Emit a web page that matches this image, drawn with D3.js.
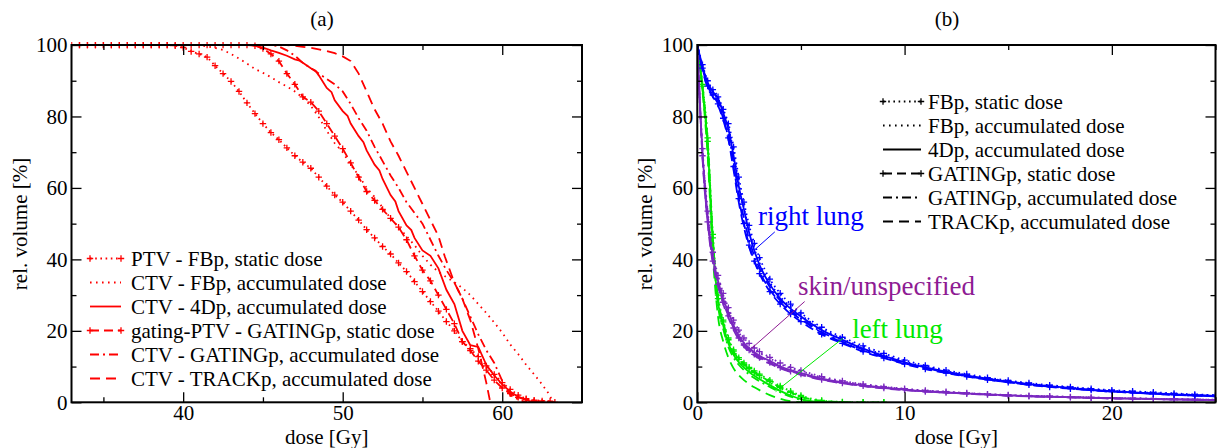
<!DOCTYPE html>
<html>
<head>
<meta charset="utf-8">
<script src="https://cdn.jsdelivr.net/npm/d3@7"></script>
<style>
  body { margin: 0; background: #fff; }
  svg { display: block; }
  svg text { font-family: "Liberation Serif", "Times New Roman", Times, "DejaVu Serif", serif !important; }
</style>
</head>
<body>
<div id="chart"></div>
<script>
// ---- panel (a): target volumes, dose [Gy] / rel. volume [%] ----
const ptvFbpStatic = [[33,100],[33.5,100],[34,100],[34.5,100],[35,100],[35.5,100],[36,100],[36.5,100],[37,100],[37.5,100],[38,100],[38.5,100],[39,100],[39.5,99.8],[40,99.3],[40.5,98.2],[41,97.5],[41.5,96.6],[42,94.2],[42.5,92],[43,89.8],[43.5,87],[44,83.8],[44.5,80.8],[45,78],[45.5,75.5],[46,73.5],[46.5,71.2],[47,69],[47.5,67.2],[48,65.5],[48.5,63],[49,60.5],[49.5,58],[50,56],[50.5,53.5],[51,51],[51.5,48.3],[52,46],[52.5,43.6],[53,41.5],[53.5,39],[54,36.6],[54.5,33.8],[55,31],[55.5,28.2],[56,25.5],[56.5,22.6],[57,20],[57.5,17],[58,15],[58.5,12.8],[59,10.2],[59.5,7.8],[60,5.5],[60.5,3.6],[61,2],[61.5,1],[62,0.6],[62.5,0.4],[63,0.3],[63.3,0]];
const ctvFbpAcc = [[33,100],[41,100],[41.5,99.6],[42,99.2],[42.5,98.6],[43,97.5],[43.5,96.2],[44,94.8],[44.5,93.3],[45,92.2],[45.5,91],[46,89.6],[46.5,88.4],[47,87],[47.5,85.2],[48,83],[48.5,79.8],[49,76],[49.5,72.5],[50,70],[50.5,66.5],[51,63.5],[51.5,60],[52,57.5],[52.5,54.5],[53,51.5],[53.5,49],[54,46.5],[54.5,44],[55,41],[55.5,38.5],[56,36.5],[56.5,35],[57,33.6],[57.5,32],[58,30],[58.5,27.5],[59,25],[59.5,22.3],[60,19.5],[60.5,16.2],[61,13.5],[61.5,10.5],[62,7.8],[62.5,5],[62.9,2.5],[63.2,0]];
const ctv4Dp = [[33,100],[44,100],[44.5,99.8],[45,99.3],[45.5,98.5],[46,97.8],[46.5,97],[47,96],[47.3,95.6],[47.5,95],[48,93.5],[48.3,92.8],[48.5,91.5],[49,88],[49.3,86.8],[49.5,84.5],[50,81.5],[50.3,80.2],[50.5,78],[51,74.5],[51.3,72.8],[51.5,70.5],[52,66.5],[52.3,64.9],[52.5,62.5],[53,58],[53.3,56.2],[53.5,53.5],[54,49.5],[54.3,48.2],[54.5,46],[55,42.5],[55.5,41],[56,37.5],[56.5,31.5],[57,27.5],[57.5,20],[58,16],[58.5,15.5],[59,10.5],[59.5,7.5],[60,5],[60.5,3],[61,1.5],[61.5,0.6],[62,0]];
const gatingPtvStatic = [[33,100],[33.5,100],[34,100],[34.5,100],[35,100],[35.5,100],[36,100],[36.5,100],[37,100],[37.5,100],[38,100],[38.5,100],[39,100],[39.5,100],[40,100],[40.5,100],[41,100],[41.5,100],[42,100],[42.5,100],[43,100],[43.5,100],[44,100],[44.5,99.8],[45,99],[45.5,97.5],[46,95.5],[46.5,92],[47,89],[47.5,85.5],[48,84],[48.5,81.5],[49,78],[49.5,74.5],[50,71],[50.5,67],[51,63],[51.5,59],[52,56.5],[52.5,54],[53,51.5],[53.5,49],[54,45.5],[54.5,41],[55,37],[55.5,34],[56,30],[56.5,26],[57,22],[57.5,17],[58,14.5],[58.5,11.5],[59,9],[59.5,6.2],[60,4],[60.5,2.4],[61,1.4],[61.5,0.8],[62,0.4],[62.5,0]];
const ctvGatingAcc = [[33,100],[45.5,100],[46,99.6],[46.5,98.5],[47,97],[47.5,95],[48,93.5],[48.5,92],[49,90.5],[49.5,89],[50,87],[50.5,83.5],[51,79.5],[51.5,76],[52,71.5],[52.5,67.5],[53,63.5],[53.5,60],[54,56],[54.5,53],[55,50],[55.5,45.5],[56,41],[56.5,37],[57,33.5],[57.5,29],[58,24],[58.5,19],[59,14.6],[59.5,11],[60,6],[60.5,2],[61,0.8],[61.5,0]];
const ctvTrackAcc = [[33,100],[46.5,100],[47,99.8],[47.5,99.5],[48,99.2],[48.5,98.8],[49,98.3],[49.5,97.7],[50,96.8],[50.5,95.5],[51,92],[51.5,87],[52,82],[52.5,78],[53,73],[53.5,69],[54,64.5],[54.5,60],[55,55.5],[55.5,51],[56,46.5],[56.4,40.8],[57,33.5],[57.5,29],[58,23],[58.5,15],[59,5.5],[59.25,0]];

const labelsA = ["PTV - FBp, static dose", "CTV - FBp, accumulated dose", "CTV - 4Dp, accumulated dose",
                 "gating-PTV - GATINGp, static dose", "CTV - GATINGp, accumulated dose", "CTV - TRACKp, accumulated dose"];

// ---- panel (b): organs at risk, values on a shared dose grid [Gy] ----
const doseGridB = [0,0.25,0.5,0.75,1,1.25,1.5,1.75,2,2.25,2.5,2.75,3,3.5,4,4.5,5,6,7,8,9,10,11,12,13,14,15,16,17,18,19,20,21,22,23,24,25];

const rightFbpStatic = [100,94.5,90,87.5,85.5,82,78,71.5,63,56,49.5,44.5,40.5,34.5,30.5,27.5,25,21,18.2,15.8,13.7,11.8,10.3,9,7.9,6.9,6.1,5.4,4.8,4.3,3.8,3.4,3.1,2.8,2.5,2.2,2];
const rightFbpAcc = [100,94,89.5,87,85,81.5,77,70,61.5,54.5,48,43,39,33.5,29.5,26.7,24.4,20.5,17.8,15.3,13.3,11.4,10,8.7,7.6,6.7,5.9,5.2,4.6,4.1,3.6,3.2,2.9,2.6,2.3,2.1,1.9];
const right4Dp = [100,94,89.5,87,85,81,76.5,69,60.5,54,47.5,42.5,38.5,33,29,26.2,24,20.2,17.5,15,13,11.2,9.8,8.6,7.5,6.6,5.8,5.1,4.5,4,3.5,3.1,2.8,2.5,2.2,2,1.8];
const rightGatingStatic = [100,93.5,88.5,86,83.5,79.5,74,66,57,50,44,39.5,36,31,27.5,24.7,22.6,19,16.5,14.2,12.4,10.7,9.3,8.2,7.2,6.3,5.6,4.9,4.3,3.8,3.4,3,2.7,2.4,2.1,1.9,1.7];
const rightGatingAcc = [100,93.5,89,86.5,84,80,75,67.5,58.5,51.5,45.5,41,37.5,32.3,28.5,25.7,23.5,19.7,17,14.7,12.7,11,9.6,8.4,7.3,6.4,5.7,5,4.4,3.9,3.4,3,2.7,2.4,2.1,1.9,1.7];
const rightTrackAcc = [100,93,88,85.5,83,79,73.5,65,56,49,43.5,39.5,36.5,31.5,28,25.3,23.2,19.5,16.8,14.5,12.6,10.9,9.5,8.3,7.3,6.4,5.6,4.9,4.4,3.9,3.4,3,2.7,2.4,2.1,1.9,1.7];

const skinFbpStatic = [100,71,53.5,42,35.5,30.5,26.5,23,20.2,18,16.5,15.2,14.2,12.6,11,9.8,8.9,7.2,6,5.1,4.4,3.8,3.3,3,2.6,2.3,2.05,1.85,1.7,1.5,1.35,1.2,1.1,1,0.9,0.8,0.7];
const skinFbpAcc = [100,70.5,53,41.5,35,30,26,22.5,19.6,17.5,16,14.8,13.8,12.3,10.7,9.6,8.7,7,5.9,5,4.3,3.7,3.2,2.9,2.55,2.25,2,1.8,1.65,1.5,1.35,1.2,1.1,1,0.9,0.8,0.7];
const skin4Dp = [100,70,52,40.5,34,29,25.2,21.5,18.7,16.6,15.2,14,13,11.6,10.1,9,8.2,6.6,5.6,4.7,4.1,3.6,3.1,2.8,2.5,2.2,1.95,1.75,1.6,1.45,1.3,1.15,1.05,0.95,0.85,0.75,0.65];
const skinGatingStatic = [100,69,50.5,39.5,33,28,24.2,20.8,18,16,14.6,13.4,12.5,11.1,9.7,8.7,7.9,6.4,5.4,4.6,4,3.5,3,2.7,2.4,2.15,1.9,1.7,1.55,1.4,1.25,1.1,1,0.9,0.8,0.72,0.62];
const skinGatingAcc = [100,69.5,51.5,40,33.5,28.5,24.7,21.2,18.4,16.3,14.9,13.7,12.8,11.3,9.9,8.8,8,6.5,5.5,4.6,4,3.5,3.05,2.75,2.45,2.15,1.9,1.7,1.55,1.4,1.25,1.1,1,0.9,0.8,0.72,0.62];
const skinTrackAcc = [100,68.5,50,39,32.5,27.5,23.7,20.3,17.6,15.6,14.2,13.1,12.2,10.8,9.5,8.5,7.7,6.3,5.3,4.5,3.9,3.4,3,2.7,2.4,2.1,1.85,1.65,1.5,1.35,1.2,1.08,0.98,0.88,0.78,0.7,0.6];

const leftFbpStatic = [100,89,74,47,30,23,18,14.7,12.5,11,9.8,8.8,7.9,6.2,4.6,3.1,1.9,0.5,0.1,0,0];
const leftFbpAcc = [100,88.5,73,46,29,22.3,17.3,14,11.8,10.3,9.1,8.1,7.2,5.5,3.9,2.5,1.4,0.3,0];
const left4Dp = [100,88,72,45,28,21.5,16.5,13.3,11.2,9.7,8.5,7.4,6.5,4.8,3.2,1.9,0.9,0.1,0];
const leftGatingStatic = [100,88.5,73,46,29,22.5,17.5,14.3,12,10.6,9.4,8.4,7.5,5.8,4.2,2.8,1.6,0.4,0.05,0,0];
const leftGatingAcc = [100,87.5,71,44,27,20.5,15.5,12.5,10.5,9,7.8,6.8,5.9,4.3,2.8,1.6,0.7,0.05,0];
const leftTrackAcc = [100,87,69,41,24,17,12.5,9.5,7.6,6.2,5.1,4.2,3.4,2,1,0.3,0.05,0,0];

const labelsB = ["FBp, static dose", "FBp, accumulated dose", "4Dp, accumulated dose",
                 "GATINGp, static dose", "GATINGp, accumulated dose", "TRACKp, accumulated dose"];
const organNames = ["right lung", "skin/unspecified", "left lung"];
const organLabelAt = [[2.93, 49.7], [4.86, 30], [7.47, 18.1]];
const organPointers = [[[2.77, 42.7], [3.74, 47.7]], [[2.62, 15.1], [5.18, 28.2]], [[3.78, 3.0], [7.02, 17.9]]];

// ---- styles (xmgrace-like) ----
const lineKinds = [
  { dash: "1.6,3.6", cross: true },   // static, plain plan
  { dash: "1.6,4.4", cross: false },  // accumulated, dotted
  { dash: null, cross: false },       // solid
  { dash: "9,5", cross: true },       // gating static
  { dash: "9,4,2,4", cross: false },  // dash-dot
  { dash: "10,6", cross: false }      // dashed
];
const RED = "#ff0000", BLUE = "#0000ff", GREEN = "#00e800", VIOLET = "#7a28c0", VIOLET_TXT = "#8e1b93";
const FS = 21;
const SERIF = "'Liberation Serif', 'Times New Roman', Times, 'DejaVu Serif', serif";

const W = 1218, H = 448;
const svg = d3.select("#chart").append("svg").attr("width", W).attr("height", H)
  .attr("font-family", SERIF);

function drawFrame(g, x, y, xMajor, xMinor, yMajor, yMinor) {
  const [x0, x1] = x.range(), [y0, y1] = y.range();
  const tickGroups = [
    [d3.axisBottom, x, xMajor, xMinor, `translate(0,${y0})`],
    [d3.axisTop, x, xMajor, xMinor, `translate(0,${y1})`],
    [d3.axisLeft, y, yMajor, yMinor, `translate(${x0},0)`],
    [d3.axisRight, y, yMajor, yMinor, `translate(${x1},0)`]
  ];
  tickGroups.forEach(([ax, sc, maj, min, tr]) => {
    [[maj, -10], [min, -5]].forEach(([vals, len]) => {
      g.append("g").attr("transform", tr)
        .call(ax(sc).tickValues(vals).tickSizeInner(len).tickSizeOuter(0).tickFormat(""))
        .call(s => s.select(".domain").remove())
        .selectAll("line").attr("stroke", "#000").attr("stroke-width", 1.3);
    });
  });
  // tick labels
  g.append("g").attr("transform", `translate(0,${y0})`)
    .call(d3.axisBottom(x).tickValues(xMajor).tickSize(0).tickPadding(3))
    .call(s => s.select(".domain").remove())
    .call(s => s.attr("font-family", SERIF).attr("font-size", FS))
    .selectAll("text").attr("fill", "#000");
  g.append("g").attr("transform", `translate(${x0},0)`)
    .call(d3.axisLeft(y).tickValues(yMajor).tickSize(0).tickPadding(4))
    .call(s => s.select(".domain").remove())
    .call(s => s.attr("font-family", SERIF).attr("font-size", FS))
    .selectAll("text").attr("fill", "#000");
  g.append("rect").attr("x", x0).attr("y", y1).attr("width", x1 - x0).attr("height", y0 - y1)
    .attr("fill", "none").attr("stroke", "#000").attr("stroke-width", 2);
}

function crossPath(s) { return `M${-s},0H${s}M0,${-s}V${s}`; }

function drawSeries(g, x, y, pts, kind, color, curve, clipId) {
  const line = d3.line().x(d => x(d[0])).y(d => y(d[1])).curve(curve);
  const sg = g.append("g").attr("clip-path", `url(#${clipId})`);
  sg.append("path").attr("d", line(pts)).attr("fill", "none")
    .attr("stroke", color).attr("stroke-width", 1.8)
    .attr("stroke-dasharray", kind.dash);
  if (kind.cross) {
    sg.selectAll("path.m").data(pts).join("path").attr("class", "m")
      .attr("d", crossPath(3.2)).attr("transform", d => `translate(${x(d[0])},${y(d[1])})`)
      .attr("stroke", color).attr("stroke-width", 1.3).attr("fill", "none");
  }
}

function drawLegend(g, labels, color, lx0, lx1, tx, ty0, step) {
  labels.forEach((lab, i) => {
    const yy = ty0 + i * step, kind = lineKinds[i];
    g.append("line").attr("x1", lx0).attr("x2", lx1).attr("y1", yy).attr("y2", yy)
      .attr("stroke", color).attr("stroke-width", 1.8).attr("stroke-dasharray", kind.dash);
    if (kind.cross) {
      [lx0, lx1].forEach(cx => g.append("path").attr("d", crossPath(3.2))
        .attr("transform", `translate(${cx},${yy})`).attr("stroke", color).attr("stroke-width", 1.3));
    }
    g.append("text").attr("x", tx).attr("y", yy + 7).attr("font-size", FS).text(lab);
  });
}

function axisTitles(g, x, y, title, titleX, ylabX) {
  const [x0, x1] = x.range();
  g.append("text").attr("x", titleX).attr("y", 26).attr("text-anchor", "middle").attr("font-size", FS).text(title);
  g.append("text").attr("x", (x0 + x1) / 2).attr("y", 444).attr("text-anchor", "middle").attr("font-size", FS).text("dose [Gy]");
  g.append("text").attr("transform", `translate(${ylabX},224) rotate(-90)`).attr("text-anchor", "middle")
    .attr("font-size", FS).text("rel. volume [%]");
}

const defs = svg.append("defs");

// ---------- panel (a) ----------
{
  const x = d3.scaleLinear().domain([33, 65]).range([71.5, 582]);
  const y = d3.scaleLinear().domain([0, 100]).range([402.3, 45]);
  defs.append("clipPath").attr("id", "clipA").append("rect")
    .attr("x", 71.5).attr("y", 42).attr("width", 582 - 71.5).attr("height", 402.3 - 42);
  const g = svg.append("g");
  const seriesA = [ptvFbpStatic, ctvFbpAcc, ctv4Dp, gatingPtvStatic, ctvGatingAcc, ctvTrackAcc];
  seriesA.forEach((pts, i) => drawSeries(g, x, y, pts, lineKinds[i], RED, d3.curveLinear, "clipA"));
  drawFrame(g, x, y, [40, 50, 60], [35, 45, 55], d3.range(0, 101, 20), d3.range(10, 100, 20));
  drawLegend(g, labelsA, RED, 90, 121, 131, 258.5, 24);
  axisTitles(g, x, y, "(a)", 322, 27);
}

// ---------- panel (b) ----------
{
  const x = d3.scaleLinear().domain([0, 25]).range([697.3, 1215.5]);
  const y = d3.scaleLinear().domain([0, 100]).range([402.3, 45]);
  defs.append("clipPath").attr("id", "clipB").append("rect")
    .attr("x", 697.3).attr("y", 45).attr("width", 1215.5 - 697.3).attr("height", 402.3 - 45);
  const g = svg.append("g");
  const organs = [
    { color: GREEN, series: [leftFbpStatic, leftFbpAcc, left4Dp, leftGatingStatic, leftGatingAcc, leftTrackAcc] },
    { color: VIOLET, series: [skinFbpStatic, skinFbpAcc, skin4Dp, skinGatingStatic, skinGatingAcc, skinTrackAcc] },
    { color: BLUE, series: [rightFbpStatic, rightFbpAcc, right4Dp, rightGatingStatic, rightGatingAcc, rightTrackAcc] }
  ];
  organs.forEach(o => o.series.forEach((vals, i) => {
    const pts = vals.map((v, k) => [doseGridB[k], v]);
    drawSeries(g, x, y, pts, lineKinds[i], o.color, d3.curveMonotoneX, "clipB");
  }));
  drawFrame(g, x, y, [0, 10, 20], [5, 15, 25], d3.range(0, 101, 20), d3.range(10, 100, 20));
  drawLegend(g, labelsB, "#000", 883, 921, 928, 101.5, 24);
  axisTitles(g, x, y, "(b)", 947, 652);

  const organColors = [BLUE, VIOLET_TXT, GREEN];
  organNames.forEach((name, i) => {
    const [p, q] = organPointers[i];
    g.append("line").attr("x1", x(p[0])).attr("y1", y(p[1])).attr("x2", x(q[0])).attr("y2", y(q[1]))
      .attr("stroke", organColors[i]).attr("stroke-width", 1);
    g.append("text").attr("x", x(organLabelAt[i][0])).attr("y", y(organLabelAt[i][1]))
      .attr("font-size", 27).style("fill", organColors[i]).text(name);
  });
}
</script>
</body>
</html>
